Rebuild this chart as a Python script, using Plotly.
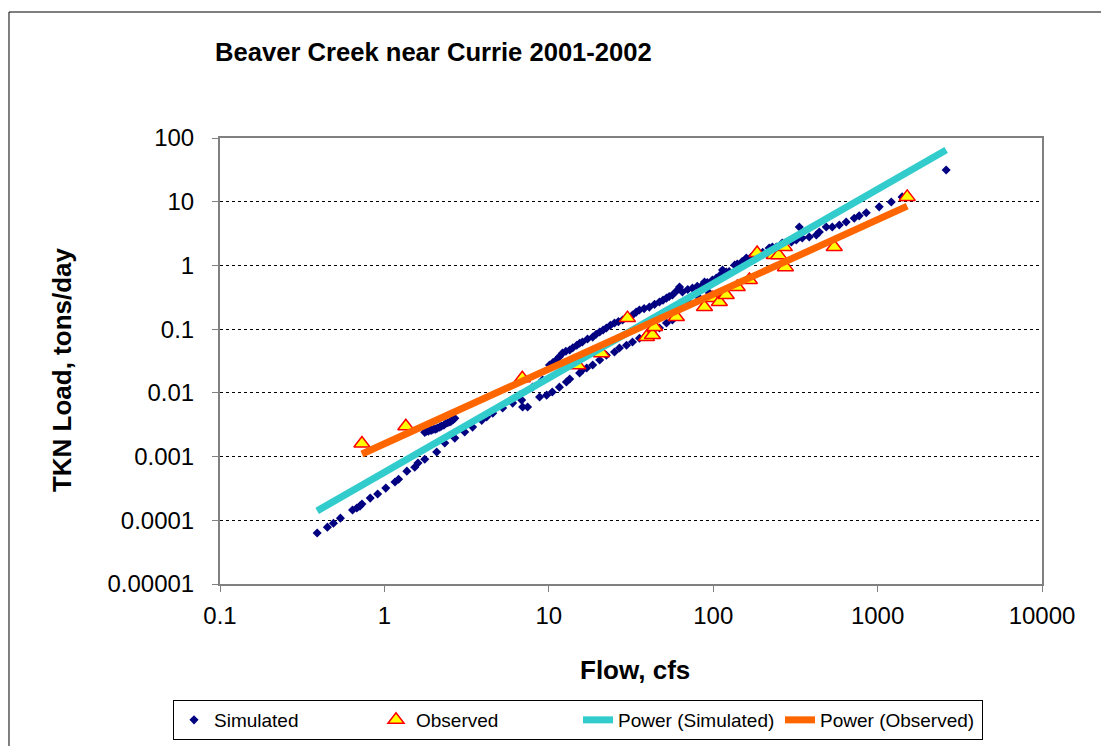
import numpy as np
import plotly.graph_objects as go

# simulated daily TKN load (flow cfs, load tons/day)
sim_flow = [0.39, 0.45, 0.49, 0.54, 0.64, 0.68, 0.71, 0.73, 0.82, 0.91, 1.02, 1.16, 1.22, 1.37, 1.53,
            1.60, 1.76, 2.08, 2.33, 2.68, 3.08, 3.44, 3.91, 4.19, 4.56, 5.24, 6.03, 6.84, 6.65, 6.93,
            7.43, 8.79, 9.70, 10.5, 11.6, 12.8,
            1.76, 1.80, 1.85, 1.90, 1.94, 2.00, 2.05, 2.10, 2.17, 2.22, 2.30, 2.36, 2.43, 2.50, 2.55,
            2.62, 2.68,
            13.4, 15.4, 16.0, 17.0, 18.5, 20.4, 22.4, 25.1, 26.9, 29.7, 32.3, 35.6, 39.3, 42.7, 47.1,
            52.0, 56.5, 62.4, 71.6, 82.4, 94.8,
            7.97, 9.16, 10.1, 11.1, 12.1, 13.4, 14.8, 16.0, 18.5, 20.4, 22.4, 25.1, 28.1, 32.3, 35.6,
            40.9, 47.1, 52.0, 56.5, 65.0, 74.8, 85.9, 98.9,
            10.6, 11.6, 12.7, 14.0, 15.4, 17.2, 19.4, 21.4, 23.7, 26.5, 30.0, 34.0, 38.0, 44.0, 49.5,
            54.0, 60.0, 70.0, 80.0, 92.0,
            62.4, 88.5, 104.5, 110, 114, 120, 125, 135, 140, 150, 159, 170, 183, 191, 200, 219, 229,
            242, 263, 299, 320, 334, 348, 384, 424, 442, 487, 530, 585, 644, 721, 773, 853, 1023,
            1211, 1410, 2612]
sim_load = [0.000063, 0.000078, 0.000090, 0.000108, 0.000145, 0.000156, 0.000167, 0.000180, 0.000223,
            0.000258, 0.00032, 0.00040, 0.00044, 0.00059, 0.00068, 0.00079, 0.00091, 0.00118, 0.00163,
            0.00195, 0.00243, 0.0029, 0.0037, 0.0042, 0.0048, 0.0058, 0.0069, 0.0077, 0.0092, 0.0060,
            0.0060, 0.0086, 0.0092, 0.0103, 0.0123, 0.0148,
            0.0024, 0.0025, 0.0025, 0.0026, 0.0026, 0.0027, 0.0027, 0.0028, 0.0029, 0.0030, 0.0031,
            0.0033, 0.0034, 0.0035, 0.0036, 0.0038, 0.0040,
            0.0165, 0.0205, 0.0228, 0.0245, 0.0273, 0.0327, 0.039, 0.0437, 0.0505, 0.056, 0.063, 0.072,
            0.081, 0.090, 0.104, 0.125, 0.139, 0.222, 0.257, 0.307, 0.369,
            0.0123, 0.0159, 0.0273, 0.0327, 0.042, 0.047, 0.056, 0.063, 0.075, 0.090, 0.104, 0.125,
            0.139, 0.166, 0.20, 0.222, 0.266, 0.307, 0.343, 0.382, 0.44, 0.49, 0.59,
            0.030, 0.037, 0.045, 0.051, 0.060, 0.070, 0.083, 0.097, 0.115, 0.131, 0.152, 0.185, 0.21,
            0.245, 0.285, 0.325, 0.40, 0.42, 0.47, 0.54,
            0.458, 0.548, 0.634, 0.70, 0.85, 0.787, 0.80, 1.01, 1.05, 1.15, 1.31, 1.35, 1.46, 1.51,
            1.6, 1.87, 1.95, 1.94, 2.25, 2.33, 2.51, 4.0, 2.69, 2.79, 3.0, 3.34, 4.0, 4.0, 4.3, 4.8,
            5.5, 6.0, 6.7, 8.3, 9.9, 11.9, 31.5]

# observed samples
obs_flow = [0.73, 1.35, 6.9, 15.0, 20.9, 30.1, 39.3, 42.7, 44.0, 56.5, 59.7, 88.5, 98.9,
            109, 120, 140, 166, 185, 235, 250, 271, 275, 545, 1514]
obs_load = [0.0016, 0.0030, 0.017, 0.027, 0.042, 0.149, 0.075, 0.081, 0.108, 0.179, 0.155,
            0.222, 0.307, 0.266, 0.343, 0.458, 0.59, 1.57, 1.46, 1.45, 1.94, 0.94, 1.95, 11.9]

y_ticks = [0.00001, 0.0001, 0.001, 0.01, 0.1, 1, 10, 100]
y_labels = ["0.00001", "0.0001", "0.001", "0.01", "0.1", "1", "10", "100"]
x_ticks = [0.1, 1, 10, 100, 1000, 10000]
x_labels = ["0.1", "1", "10", "100", "1000", "10000"]


def power_fit(xs, ys):
    lx = np.log10(xs)
    b, a = np.polyfit(lx, np.log10(ys), 1)
    xr = np.array([min(xs), max(xs)])
    return xr, 10 ** (a + b * np.log10(xr))


fit_sim_x, fit_sim_y = power_fit(sim_flow, sim_load)
fit_obs_x, fit_obs_y = power_fit(obs_flow, obs_load)

FONT = "Liberation Sans, Arial, sans-serif"

fig = go.Figure()
fig.add_trace(go.Scatter(x=sim_flow, y=sim_load, mode="markers", name="Simulated",
                         marker=dict(symbol="diamond", size=7, color="#000080")))
fig.add_trace(go.Scatter(x=obs_flow, y=obs_load, mode="markers", name="Observed",
                         marker=dict(symbol="triangle-up", size=14, color="#FFFF00",
                                     line=dict(color="#FF0000", width=1.5))))
fig.add_trace(go.Scatter(x=fit_sim_x, y=fit_sim_y, mode="lines", name="Power (Simulated)",
                         line=dict(color="#33CCCC", width=7)))
fig.add_trace(go.Scatter(x=fit_obs_x, y=fit_obs_y, mode="lines", name="Power (Observed)",
                         line=dict(color="#FF6600", width=7)))

# page has an 8px body margin, so the figure is shrunk by 8px to land on the same pixels
fig.update_layout(
    width=1101, height=738,
    margin=dict(l=212, r=67, t=130, b=162),
    paper_bgcolor="white", plot_bgcolor="white",
    font=dict(family=FONT, size=24, color="black"),
    title=dict(text="<b>Beaver Creek near Currie 2001-2002</b>", x=207 / 1101, xanchor="left",
               y=1 - 44 / 738, yanchor="middle", xref="container", yref="container",
               font=dict(size=25.6)),
    showlegend=True,
    legend=dict(orientation="h", xref="container", yref="container",
                x=570 / 1101, y=1 - 692 / 738, xanchor="center", yanchor="top",
                bordercolor="black", borderwidth=1, font=dict(size=19),
                itemwidth=30, tracegroupgap=0, entrywidth=157),
)

fig.update_xaxes(type="log", range=[-1, 4], tickvals=x_ticks, ticktext=x_labels,
                 showgrid=False, showline=True, linecolor="#808080", linewidth=2, mirror=True,
                 ticks="outside", ticklen=6, tickcolor="#808080", zeroline=False,
                 ticklabelstandoff=3)
fig.update_yaxes(type="log", range=[-5, 2], tickvals=y_ticks, ticktext=y_labels,
                 showgrid=True, gridcolor="black", gridwidth=1, griddash="dot",
                 showline=True, linecolor="#808080", linewidth=2, mirror=True,
                 ticks="outside", ticklen=6, tickcolor="#808080", zeroline=False,
                 ticklabelstandoff=13)

fig.add_annotation(text="<b>Flow, cfs</b>", xref="paper", yref="paper", x=0.505, y=-0.193,
                   xanchor="center", yanchor="middle", showarrow=False, font=dict(size=26))
fig.add_annotation(text="<b>TKN Load, tons/day</b>", xref="paper", yref="paper", x=-0.192, y=0.48,
                   xanchor="center", yanchor="middle", textangle=-90, showarrow=False,
                   font=dict(size=26))

# outer chart border
fig.add_shape(type="rect", xref="paper", yref="paper", x0=-0.2567, x1=1.0754, y0=-0.37, y1=1.2825,
              line=dict(color="black", width=1))

fig.write_html("out.html")
